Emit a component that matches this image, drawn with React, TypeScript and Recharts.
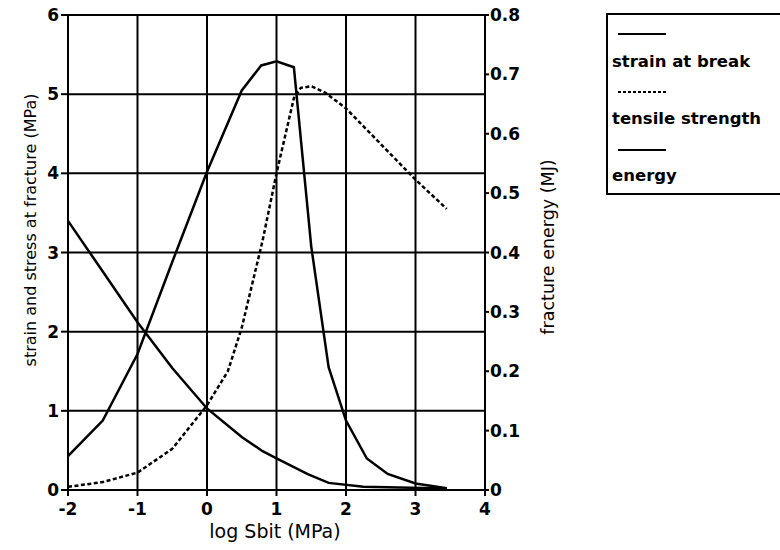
import { CartesianGrid, Legend, Line, LineChart, XAxis, YAxis } from 'recharts'

const xTicks = [-2, -1, 0, 1, 2, 3, 4]
const stressTicks = [0, 1, 2, 3, 4, 5, 6]
const energyTicks = [0, 0.1, 0.2, 0.3, 0.4, 0.5, 0.6, 0.7, 0.8]

// log Sbit (MPa) vs strain / stress (left axis)
const strainAtBreak = [
  { x: -2, y: 3.4 }, { x: -1.5, y: 2.76 }, { x: -1, y: 2.12 }, { x: -0.5, y: 1.54 },
  { x: 0, y: 1.03 }, { x: 0.5, y: 0.67 }, { x: 0.8, y: 0.49 }, { x: 1, y: 0.4 },
  { x: 1.45, y: 0.2 }, { x: 1.75, y: 0.09 }, { x: 2.25, y: 0.04 }, { x: 3.45, y: 0.02 },
]

const tensileStrength = [
  { x: -2, y: 0.04 }, { x: -1.5, y: 0.1 }, { x: -1, y: 0.22 }, { x: -0.5, y: 0.52 },
  { x: 0, y: 1.07 }, { x: 0.3, y: 1.5 }, { x: 0.5, y: 2.05 }, { x: 0.8, y: 3.15 },
  { x: 1, y: 4.0 }, { x: 1.25, y: 4.95 }, { x: 1.35, y: 5.08 }, { x: 1.5, y: 5.1 },
  { x: 1.7, y: 5.02 }, { x: 2, y: 4.82 }, { x: 3, y: 3.92 }, { x: 3.45, y: 3.55 },
]

// fracture energy (MJ), right axis
const fractureEnergy = [
  { x: -2, y: 0.057 }, { x: -1.5, y: 0.117 }, { x: -1, y: 0.229 }, { x: -0.5, y: 0.384 },
  { x: 0, y: 0.536 }, { x: 0.5, y: 0.673 }, { x: 0.78, y: 0.715 }, { x: 1.0, y: 0.722 },
  { x: 1.25, y: 0.712 }, { x: 1.5, y: 0.41 }, { x: 1.75, y: 0.207 }, { x: 2, y: 0.117 },
  { x: 2.3, y: 0.053 }, { x: 2.6, y: 0.027 }, { x: 3, y: 0.011 }, { x: 3.45, y: 0.003 },
]

const legendItems = [
  { name: 'strain at break', dash: undefined },
  { name: 'tensile strength', dash: '3 2' },
  { name: 'energy', dash: undefined },
]

const font = '"DejaVu Sans", sans-serif'

function Title({ px, py, angle, size, text }: any) {
  return (
    <text
      x={px}
      y={py}
      transform={angle ? `rotate(${angle} ${px} ${py})` : undefined}
      textAnchor="middle"
      dominantBaseline="central"
      fontFamily={font}
      fontSize={size}
      fill="#000"
    >
      {text}
    </text>
  )
}

function LegendBox() {
  return (
    <div
      style={{
        position: 'absolute', left: 606, top: 13, width: 200, height: 178,
        border: '2px solid #000', background: '#fff', fontFamily: font,
        fontWeight: 'bold', fontSize: 16.5, color: '#000',
      }}
    >
      {legendItems.map((item, i) => (
        <div key={item.name}>
          <svg style={{ position: 'absolute', left: 10, top: 16 + i * 58 }} width={48} height={6}>
            <line x1={0} y1={3} x2={48} y2={3} stroke="#000" strokeWidth={2} strokeDasharray={item.dash} />
          </svg>
          <div style={{ position: 'absolute', left: 4, top: 37 + i * 57, whiteSpace: 'nowrap' }}>{item.name}</div>
        </div>
      ))}
    </div>
  )
}

export default function App() {
  const tick = { fill: '#000', fontFamily: font, fontWeight: 'bold', fontSize: 17 }
  return (
    <div style={{ position: 'absolute', left: 0, top: 0, width: 780, height: 550, overflow: 'hidden', background: '#fff' }}>
      <LineChart width={780} height={550} margin={{ top: 15, right: 225, bottom: 30, left: 0 }}>
        <CartesianGrid yAxisId="left" stroke="#000" strokeWidth={2} horizontalValues={stressTicks} verticalValues={xTicks} />
        <XAxis
          dataKey="x" type="number" domain={[-2, 4]} ticks={xTicks} allowDataOverflow
          height={30} tick={tick} tickSize={6} tickMargin={7}
          axisLine={{ stroke: '#000', strokeWidth: 2 }} tickLine={{ stroke: '#000', strokeWidth: 2 }}
          label={{ content: () => <Title px={275} py={531} size={19} text="log Sbit (MPa)" /> }}
        />
        <YAxis
          yAxisId="left" domain={[0, 6]} ticks={stressTicks} width={68}
          tick={tick} tickSize={7} tickMargin={2}
          axisLine={{ stroke: '#000', strokeWidth: 2 }} tickLine={{ stroke: '#000', strokeWidth: 2 }}
          label={{ content: () => <Title px={30} py={230} angle={-90} size={16} text="strain and stress at fracture (MPa)" /> }}
        />
        <YAxis
          yAxisId="right" orientation="right" domain={[0, 0.8]} ticks={energyTicks} width={70}
          tick={tick} tickSize={4} tickMargin={1} tickFormatter={(v) => String(v)}
          axisLine={{ stroke: '#000', strokeWidth: 2 }} tickLine={{ stroke: '#000', strokeWidth: 2 }}
          label={{ content: () => <Title px={548} py={247} angle={-90} size={17.5} text="fracture energy (MJ)" /> }}
        />
        <Legend content={() => null} />
        <Line data={strainAtBreak} dataKey="y" yAxisId="left" name="strain at break" type="linear"
          stroke="#000" strokeWidth={2.5} dot={false} isAnimationActive={false} />
        <Line data={tensileStrength} dataKey="y" yAxisId="left" name="tensile strength" type="linear"
          stroke="#000" strokeWidth={2.5} strokeDasharray="4 2.5" dot={false} isAnimationActive={false} />
        <Line data={fractureEnergy} dataKey="y" yAxisId="right" name="energy" type="linear"
          stroke="#000" strokeWidth={2.5} dot={false} isAnimationActive={false} />
      </LineChart>
      <LegendBox />
    </div>
  )
}
